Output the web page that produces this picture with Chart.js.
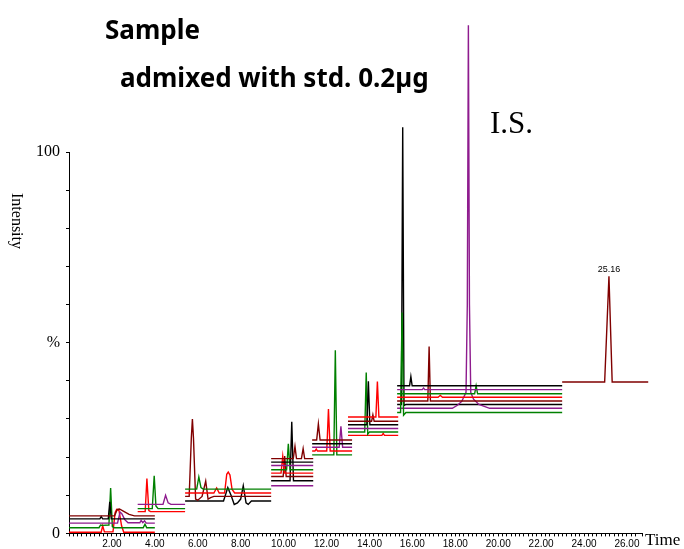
<!DOCTYPE html>
<html>
<head>
<meta charset="utf-8">
<script src="https://cdn.jsdelivr.net/npm/chart.js@4/dist/chart.umd.min.js"></script>
<style>
  body { margin: 0; background: #fff; }
  #wrap { position: relative; width: 684px; height: 549px; }
  #chart { position: absolute; left: 0; top: 0; }
  .txt { position: absolute; white-space: nowrap; line-height: 1; color: #000; }
  .head { font-family: "Noto Sans", sans-serif; font-weight: bold; font-size: 26px; }
  .serif { font-family: "Liberation Serif", "DejaVu Serif", serif; }
</style>
</head>
<body>
<div id="wrap">
  <canvas id="chart" width="684" height="549"></canvas>
  <div class="txt head" style="left:105px; top:16px;">Sample</div>
  <div class="txt head" style="left:120px; top:64px;">admixed with std. 0.2µg</div>
  <div class="txt serif" style="left:490px; top:107px; font-size:31px;">I.S.</div>
  <div class="txt serif" style="left:9px; top:193px; font-size:16px; writing-mode:vertical-rl;">Intensity</div>
  <div class="txt serif" style="left:645px; top:531px; font-size:17px;">Time</div>
</div>
<script>
// Chromatogram traces: [time (min), intensity (%)].
// Each time window holds several traces stacked on their own baselines.

// window 1 (0 - 4 min)
const w1DarkRed = [[0,4.6],[2.12,4.6],[2.25,6.3],[2.35,6.4],[2.55,5.8],[2.8,5.0],[3.05,4.6],[4.0,4.6]];
const w1Black = [[0,3.8],[1.44,3.8],[1.5,4.4],[1.57,3.8],[1.83,3.8],[1.9,8.3],[1.97,3.8],[4.0,3.8]];
const w1Purple = [[0,2.7],[2.26,2.7],[2.38,5.6],[2.46,5.2],[2.6,3.6],[2.75,2.8],[3.3,2.8],[3.36,3.4],[3.44,2.8],[3.52,3.3],[3.6,2.7],[4.0,2.7]];
const w1Green = [[0,1.5],[1.4,1.5],[1.47,2.2],[1.55,2.1],[1.86,2.2],[1.94,11.9],[2.02,1.8],[2.1,1.5],[3.46,1.5],[3.54,2.4],[3.62,1.5],[4.0,1.5]];
const w1Red = [[0,0.3],[1.5,0.3],[1.57,2.0],[1.65,0.4],[2.05,0.4],[2.15,5.5],[2.22,6.3],[2.33,6.0],[2.45,2.0],[2.55,0.3],[4.0,0.3]];

// window 2 (3.2 - 5.4 min)
const w2Purple = [[3.2,7.6],[4.38,7.6],[4.5,10.0],[4.62,8.0],[4.75,7.6],[5.41,7.6]];
const w2Green = [[3.2,6.5],[3.88,6.5],[3.97,15.1],[4.05,7.2],[4.15,6.5],[5.41,6.5]];
const w2Red = [[3.2,5.7],[3.55,5.7],[3.63,14.4],[3.72,6.0],[3.8,5.7],[5.41,5.7]];

// window 3 (5.4 - 9.4 min)
const w3Green = [[5.41,11.6],[5.95,11.6],[6.05,14.8],[6.15,12.0],[6.25,11.6],[9.42,11.6]];
const w3Red = [[5.41,10.6],[6.75,10.6],[6.88,11.9],[7.0,10.6],[7.25,10.6],[7.35,15.5],[7.42,16.1],[7.5,15.3],[7.6,11.5],[7.72,10.6],[9.42,10.6]];
const w3DarkRed = [[5.41,9.7],[5.6,9.7],[5.7,25],[5.75,30],[5.8,25],[5.9,9.0],[6.0,8.7],[6.2,9.7],[6.37,13.7],[6.48,9.0],[6.6,9.4],[6.75,9.7],[9.42,9.7]];
const w3Black = [[5.41,8.5],[7.2,8.5],[7.4,12.0],[7.55,10.0],[7.7,7.6],[7.85,8.0],[8.0,9.0],[8.12,12.5],[8.25,8.0],[8.35,7.6],[8.5,8.5],[9.42,8.5]];

// window 4 (9.4 - 11.4 min)
const w4DarkRedA = [[9.42,19.6],[10.45,19.6],[10.53,22.8],[10.6,19.6],[10.83,19.6],[10.91,22.2],[10.98,19.6],[11.38,19.6]];
const w4BlackA = [[9.42,18.7],[11.38,18.7]];
const w4PurpleA = [[9.42,17.8],[11.38,17.8]];
const w4Green = [[9.42,16.7],[10.14,16.7],[10.22,23.5],[10.3,16.7],[11.38,16.7]];
const w4Red = [[9.42,15.8],[9.88,15.8],[9.96,20.2],[10.04,15.8],[11.38,15.8]];
const w4DarkRedB = [[9.42,14.9],[9.98,14.9],[10.05,20.3],[10.12,14.9],[11.38,14.9]];
const w4BlackB = [[9.42,13.8],[10.3,13.8],[10.38,29.3],[10.46,13.8],[11.38,13.8]];
const w4PurpleB = [[9.42,12.5],[11.38,12.5]];

// window 5 (11.3 - 13.2 min)
const w5DarkRed = [[11.33,24.5],[11.54,24.5],[11.62,28.7],[11.7,24.5],[13.19,24.5]];
const w5Black = [[11.33,23.5],[13.19,23.5]];
const w5Purple = [[11.33,22.6],[12.59,22.6],[12.67,28.1],[12.75,22.6],[13.19,22.6]];
const w5Red = [[11.33,21.6],[11.46,21.6],[11.52,22.1],[11.58,21.6],[12.01,21.6],[12.09,32.6],[12.17,21.6],[13.19,21.6]];
const w5Green = [[11.33,20.6],[12.34,20.6],[12.41,48.0],[12.48,20.6],[13.19,20.6]];

// window 6 (13.0 - 15.3 min)
const w6RedA = [[13.0,30.5],[14.3,30.5],[14.37,39.8],[14.44,30.5],[15.34,30.5]];
const w6DarkRed = [[13.0,29.4],[14.1,29.4],[14.16,31.1],[14.22,29.4],[15.34,29.4]];
const w6Black = [[13.0,28.5],[13.88,28.5],[13.95,39.9],[14.02,28.5],[15.34,28.5]];
const w6Purple = [[13.0,27.5],[15.34,27.5]];
const w6Green = [[13.0,26.6],[13.78,26.6],[13.85,42.2],[13.92,26.0],[14.0,26.6],[15.34,26.6]];
const w6RedB = [[13.0,25.7],[14.58,25.7],[14.64,26.2],[14.7,25.7],[15.34,25.7]];

// window 7 (15.3 - 23.0 min), I.S. at 18.6
const w7BlackA = [[15.29,38.7],[15.87,38.7],[15.93,41.1],[15.99,38.7],[22.98,38.7]];
const w7PurpleA = [[15.29,37.7],[16.46,37.7],[16.52,38.1],[16.58,37.7],[22.98,37.7]];
const w7GreenA = [[15.29,36.6],[18.9,36.6],[18.97,38.7],[19.04,36.6],[22.98,36.6]];
const w7Red = [[15.29,35.7],[17.2,35.7],[17.3,36.2],[17.4,35.7],[22.98,35.7]];
const w7DarkRed = [[15.29,34.7],[16.72,34.7],[16.78,49.0],[16.84,34.7],[22.98,34.7]];
const w7BlackB = [[15.29,33.8],[15.49,33.8],[15.55,106.5],[15.61,33.5],[15.7,33.8],[22.98,33.8]];
const w7PurpleB = [[15.29,32.8],[17.86,32.8],[18.1,33.6],[18.3,34.6],[18.5,37],[18.56,60],[18.61,133.2],[18.66,60],[18.72,37],[18.85,35.2],[19.1,33.8],[19.6,32.8],[22.98,32.8]];
const w7GreenB = [[15.29,31.7],[15.45,31.7],[15.52,57.9],[15.59,31.0],[15.7,31.7],[22.98,31.7]];

// window 8 (23.0 - 27.0 min)
const w8DarkRed = [[22.98,39.7],[24.96,39.7],[25.16,67.4],[25.31,39.7],[26.99,39.7]];

const BLACK = '#000000', DARKRED = '#800000', RED = '#ff0000', GREEN = '#008000', PURPLE = '#8e1b8e';

const traces = [
  [w1DarkRed, DARKRED], [w1Black, BLACK], [w1Purple, PURPLE], [w1Green, GREEN], [w1Red, RED],
  [w2Purple, PURPLE], [w2Green, GREEN], [w2Red, RED],
  [w3Green, GREEN], [w3Red, RED], [w3DarkRed, DARKRED], [w3Black, BLACK],
  [w4DarkRedA, DARKRED], [w4BlackA, BLACK], [w4PurpleA, PURPLE], [w4Green, GREEN],
  [w4Red, RED], [w4DarkRedB, DARKRED], [w4BlackB, BLACK], [w4PurpleB, PURPLE],
  [w5DarkRed, DARKRED], [w5Black, BLACK], [w5Purple, PURPLE], [w5Red, RED], [w5Green, GREEN],
  [w6RedA, RED], [w6DarkRed, DARKRED], [w6Black, BLACK], [w6Purple, PURPLE], [w6Green, GREEN], [w6RedB, RED],
  [w7BlackA, BLACK], [w7PurpleA, PURPLE], [w7GreenA, GREEN], [w7Red, RED], [w7DarkRed, DARKRED],
  [w7GreenB, GREEN], [w7PurpleB, PURPLE], [w7BlackB, BLACK],
  [w8DarkRed, DARKRED]
];

// retention time printed over the last peak
const peakLabel = {
  id: 'peakLabel',
  afterDatasetsDraw(chart) {
    const top = w8DarkRed.reduce((a, b) => (b[1] > a[1] ? b : a));
    const ctx = chart.ctx;
    ctx.save();
    ctx.font = '9px "Liberation Sans Narrow", "Liberation Sans", sans-serif';
    ctx.fillStyle = '#000';
    ctx.textAlign = 'center';
    ctx.textBaseline = 'bottom';
    ctx.fillText(top[0].toFixed(2), chart.scales.x.getPixelForValue(top[0]), chart.scales.y.getPixelForValue(top[1]) - 2);
    ctx.restore();
  }
};

const config = {
  type: 'line',
  data: {
    datasets: traces.map(t => ({
      data: t[0],
      borderColor: t[1],
      borderWidth: 1.4,
      pointRadius: 0,
      tension: 0,
      clip: false
    }))
  },
  options: {
    responsive: false,
    animation: false,
    devicePixelRatio: 1,
    layout: { padding: { top: 152, right: 42, left: 0, bottom: 0 } },
    plugins: { legend: { display: false }, tooltip: { enabled: false } },
    scales: {
      x: {
        type: 'linear',
        min: 0,
        max: 26.7,
        afterFit: s => { s.height = 14; },
        grid: { drawOnChartArea: false, tickLength: 3, color: '#000' },
        border: { color: '#000', width: 1 },
        ticks: {
          stepSize: 0.2,
          autoSkip: false,
          maxRotation: 0,
          padding: 2,
          color: '#000',
          font: { family: '"Liberation Sans Narrow", "Liberation Sans", sans-serif', size: 10 },
          callback: v => (v > 0 && Math.abs(v / 2 - Math.round(v / 2)) < 1e-6) ? v.toFixed(2) : ''
        }
      },
      y: {
        min: 0,
        max: 100,
        afterFit: s => { s.width = 69; },
        grid: { drawOnChartArea: false, tickLength: 3, color: '#000' },
        border: { color: '#000', width: 1 },
        ticks: {
          stepSize: 10,
          padding: 6,
          color: '#000',
          font: { family: '"Liberation Serif", serif', size: 16 },
          callback: v => (v === 0 ? '0' : v === 50 ? '%' : v === 100 ? '100' : '')
        }
      }
    }
  },
  plugins: [peakLabel]
};

window.onload = function() {
  new Chart(document.getElementById('chart').getContext('2d'), config);
};
</script>
</body>
</html>
